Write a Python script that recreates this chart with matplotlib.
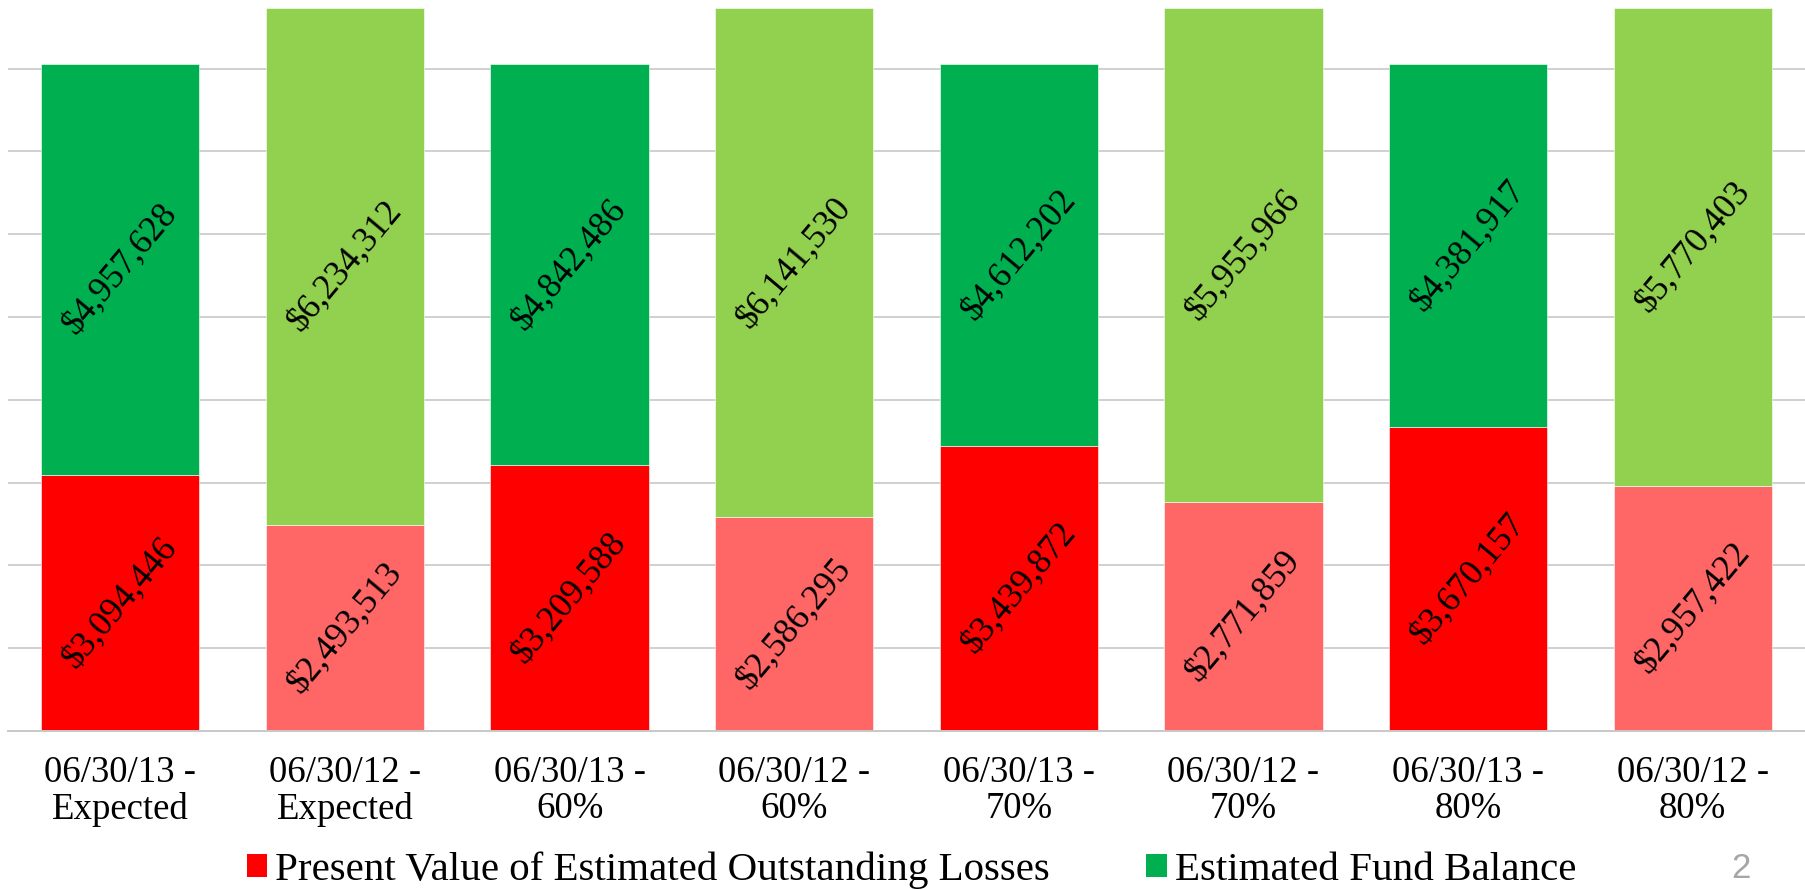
import matplotlib
matplotlib.use("Agg")
import matplotlib.pyplot as plt
from matplotlib.patches import Patch

CATEGORIES = [
    "06/30/13 -\nExpected", "06/30/12 -\nExpected",
    "06/30/13 -\n60%", "06/30/12 -\n60%",
    "06/30/13 -\n70%", "06/30/12 -\n70%",
    "06/30/13 -\n80%", "06/30/12 -\n80%",
]
LOSSES = [3094446, 2493513, 3209588, 2586295, 3439872, 2771859, 3670157, 2957422]
FUND_BALANCE = [4957628, 6234312, 4842486, 6141530, 4612202, 5955966, 4381917, 5770403]

# current year bars are solid, prior year bars are the lighter tint
RED = ["#FF0000", "#FF6666"]
GREEN = ["#00B050", "#92D050"]

SERIF = "Liberation Serif"

fig = plt.figure(figsize=(18.05, 8.9), dpi=100)
ax = fig.add_axes([8 / 1805, 1 - 731 / 890, 1797 / 1805, 731 / 890])

x = list(range(len(CATEGORIES)))
loss_colors = [RED[i % 2] for i in x]
fund_colors = [GREEN[i % 2] for i in x]

ax.bar(x, LOSSES, width=0.705, color=loss_colors, edgecolor="white", linewidth=0.4, zorder=2)
ax.bar(x, FUND_BALANCE, width=0.705, bottom=LOSSES, color=fund_colors,
       edgecolor="white", linewidth=0.4, zorder=2)

for i in x:
    ax.text(i, LOSSES[i] / 2, f"${LOSSES[i]:,}", rotation=50, rotation_mode="anchor",
            ha="center", va="center", fontsize=25.5, family=SERIF, color="black", zorder=3)
    ax.text(i, LOSSES[i] + FUND_BALANCE[i] / 2, f"${FUND_BALANCE[i]:,}", rotation=50,
            rotation_mode="anchor", ha="center", va="center", fontsize=25.5, family=SERIF,
            color="black", zorder=3)

ax.set_xlim(-0.5, len(CATEGORIES) - 0.5)
ax.set_ylim(0, 8.83e6)
ax.set_yticks([i * 1e6 for i in range(1, 9)])
ax.set_yticklabels([])
ax.tick_params(axis="y", length=0)
ax.yaxis.grid(True, color="#C8C8C8", linewidth=1.2, zorder=0)
ax.set_axisbelow(True)

ax.set_xticks(x)
ax.set_xticklabels(CATEGORIES, fontsize=26.5, family=SERIF, linespacing=1.05)
ax.tick_params(axis="x", length=0, pad=18)

for side in ["top", "right", "left"]:
    ax.spines[side].set_visible(False)
ax.spines["bottom"].set_color("#C8C8C8")
ax.spines["bottom"].set_linewidth(1.4)

handles = [
    Patch(facecolor=RED[0], label="Present Value of Estimated Outstanding Losses"),
    Patch(facecolor=GREEN[0], label="Estimated Fund Balance"),
]
fig.legend(handles=handles, loc="center", bbox_to_anchor=(0.505, 1 - 870 / 890), ncol=2,
           frameon=False, prop={"family": SERIF, "size": 29.5},
           handlelength=0.5, handleheight=0.5, handletextpad=0.2, columnspacing=2.35)

fig.text(1741 / 1805, 1 - 868 / 890, "2", fontsize=25, family="Liberation Sans",
         color="#A6A6A6", ha="center", va="center")

fig.savefig("out.png", dpi=100)
